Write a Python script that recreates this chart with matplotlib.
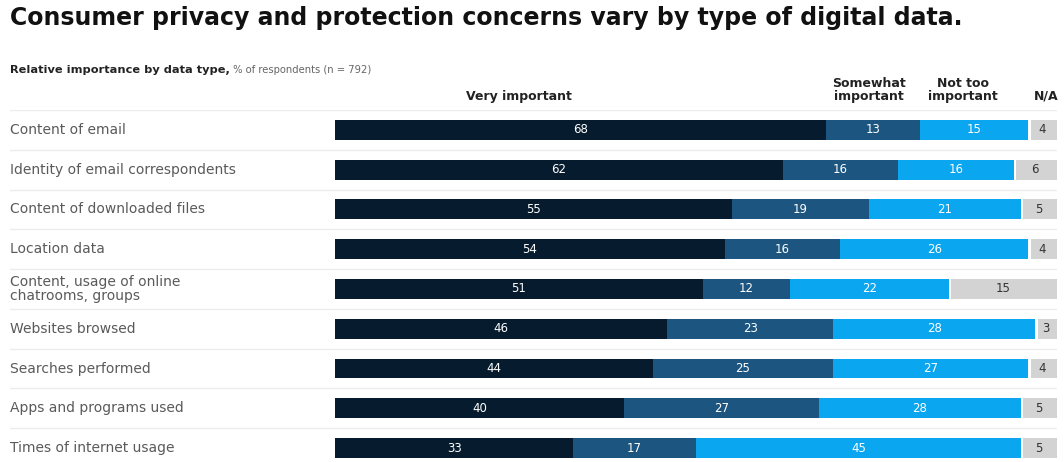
import numpy as np
import matplotlib.pyplot as plt

categories = ['Content of email', 'Identity of email correspondents', 'Content of downloaded files',
              'Location data', 'Content, usage of online\nchatrooms, groups', 'Websites browsed',
              'Searches performed', 'Apps and programs used', 'Times of internet usage']
very = [68, 62, 55, 54, 51, 46, 44, 40, 33]
somewhat = [13, 16, 19, 16, 12, 23, 25, 27, 17]
not_too = [15, 16, 21, 26, 22, 28, 27, 28, 45]
na = [4, 6, 5, 4, 15, 3, 4, 5, 5]

series = [very, somewhat, not_too, na]
colors = ['#061c2e', '#1c5680', '#0aa6f0', '#d3d3d3']
txt_colors = ['white', 'white', 'white', '#333333']
headers = ['Very important', 'Somewhat\nimportant', 'Not too\nimportant', 'N/A']

fig = plt.figure(figsize=(10.64, 4.62), dpi=100)
# axes runs from the row labels (x=10px) to the bar end (x=1057px)
ax = fig.add_axes([10 / 1064, 0, 1047 / 1064, (462 - 110) / 462])
ax.set_xlim(-45.0, 100)
ax.set_ylim(8.35, -0.5)
ax.axis('off')

y = np.arange(len(categories))
left = np.zeros(len(categories))
for k, vals in enumerate(series):
    vals = np.array(vals, dtype=float)
    if k == 3:
        # small white gap before the N/A block
        ax.barh(y, vals - 0.35, left=left + 0.35, height=0.5, color=colors[k])
    else:
        ax.barh(y, vals, left=left, height=0.5, color=colors[k])
    for i, v in enumerate(vals):
        ax.text(left[i] + v / 2, y[i], f'{int(v)}', ha='center', va='center',
                fontsize=8.5, color=txt_colors[k])
    left = left + vals

for i, c in enumerate(categories):
    ax.text(-45.0, y[i], c, ha='left', va='center', fontsize=10, color='#5a5a5a',
            linespacing=1.05)

for i in range(len(categories)):
    ax.axhline(i - 0.5, color='#ececec', lw=1, zorder=0)

# column headers
hx = [25.5, 74.0, 87.0, 98.5]
for k, h in enumerate(headers):
    ax.text(hx[k], -0.68, h, ha='center', va='bottom', fontsize=9,
            fontweight='bold', color='#222222', linespacing=1.0)

fig.text(10 / 1064, 1 - 18 / 462, 'Consumer privacy and protection concerns vary by type of digital data.',
         ha='left', va='center', fontsize=17, fontweight='bold', color='#111111')
t1 = fig.text(10 / 1064, 1 - 70 / 462, 'Relative importance by data type,', ha='left', va='center',
              fontsize=8.2, fontweight='bold', color='#222222')
ax.annotate(' % of respondents (n = 792)', xy=(1, 0.5), xycoords=t1, ha='left', va='center',
            fontsize=7.2, color='#666666')

fig.savefig('out.png', dpi=100, facecolor='white')
